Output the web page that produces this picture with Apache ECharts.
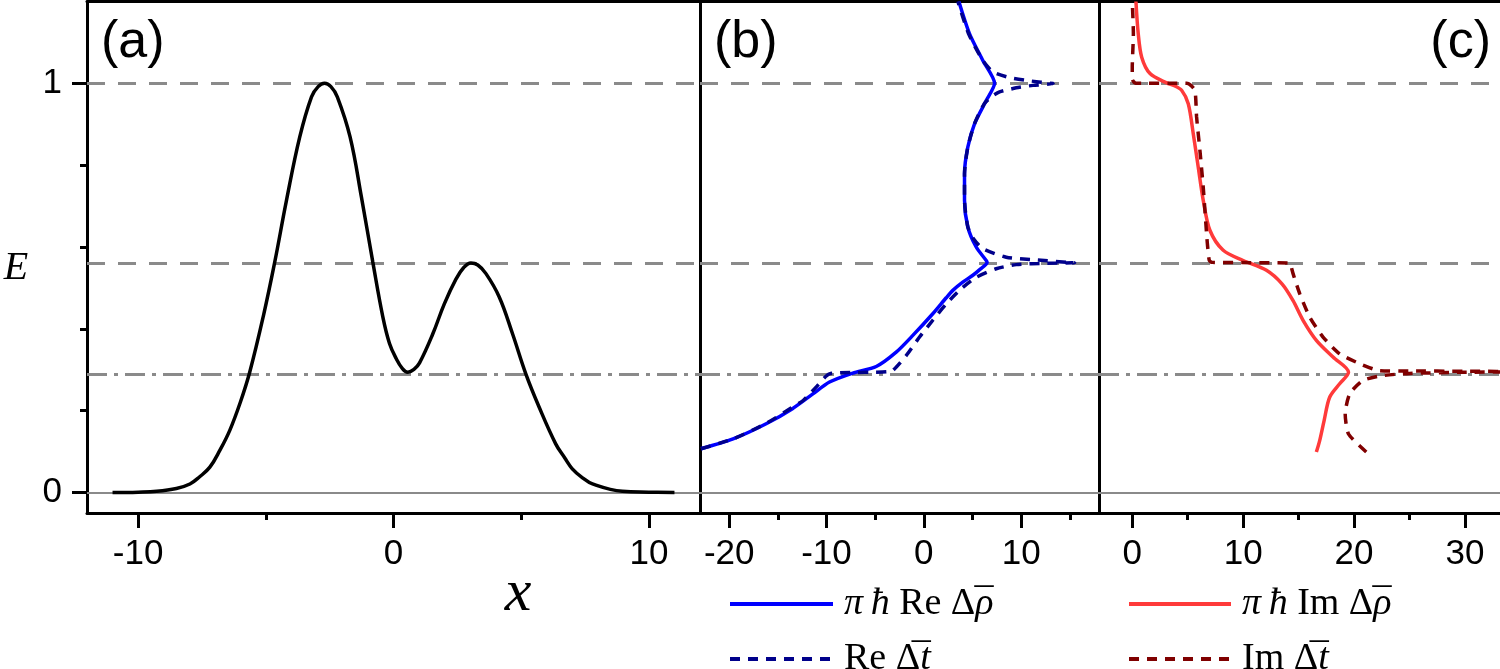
<!DOCTYPE html>
<html>
<head>
<meta charset="utf-8">
<script src="https://cdn.jsdelivr.net/npm/echarts@6/dist/echarts.min.js"></script>
<style>
  html, body { margin: 0; padding: 0; background: #fff; }
  #main { width: 1500px; height: 669px; }
</style>
</head>
<body>
<div id="main"></div>
<script>
// panel (a): potential V(x)
const potX = [-11.0, -10.0, -9.27, -8.5, -7.97, -7.6, -7.19, -6.8, -6.41, -6.0, -5.63, -5.1, -4.65, -4.19, -3.67, -3.21,
  -2.95, -2.7, -2.45, -2.2, -1.7, -1.25, -0.81, -0.42, -0.16, 0.1, 0.35, 0.56, 0.8, 1.02, 1.54, 1.99, 2.45, 2.75, 3.03,
  3.3, 3.62, 4.14, 4.66, 5.18, 5.7, 6.35, 6.7, 7.0, 7.4, 7.79, 8.96, 10.0, 11.0];
const potV = [0.0, 0.001, 0.003, 0.01, 0.021, 0.038, 0.062, 0.103, 0.152, 0.22, 0.294, 0.43, 0.563, 0.714, 0.869, 0.967,
  0.992, 1.0, 0.992, 0.967, 0.869, 0.72, 0.563, 0.43, 0.365, 0.328, 0.303, 0.294, 0.301, 0.317, 0.388, 0.461, 0.522, 0.55, 0.561,
  0.556, 0.535, 0.478, 0.388, 0.29, 0.209, 0.119, 0.085, 0.058, 0.036, 0.021, 0.003, 0.001, 0.0];

// panel (b): real parts, x value vs energy
const reRhoX = [-22.9, -19.6, -16.2, -13.5, -11.4, -9.69, -7.3, -4.89, -2.84, -1.13, 0.92, 2.3, 2.98, 4.0, 5.04, 5.8, 6.5,
  6.41, 5.38, 4.52, 4.18, 4.18, 4.52, 5.21, 6.41, 7.27, 6.06, 4.7, 3.6];
const reRhoE = [0.107, 0.131, 0.168, 0.205, 0.241, 0.27, 0.292, 0.308, 0.343, 0.384, 0.437, 0.476, 0.494, 0.514, 0.531, 0.546, 0.562,
  0.567, 0.6, 0.649, 0.714, 0.779, 0.844, 0.901, 0.958, 1.0, 1.056, 1.121, 1.2];

const reTX = [-22.9, -19.6, -16.2, -13.6, -12.4, -11.1, -9.7, -7.0, -5.1, -3.8, -3.2, -1.8, -0.44, 0.92, 2.3, 3.84, 5.38,
  7.44, 9.5, 12.6, 15.5, 15.5, 11.2, 8.47, 6.06, 5.1, 4.52, 4.18, 4.18, 4.52, 5.21, 6.2, 6.93, 7.78, 9.5, 11.2, 13.3,
  13.3, 10.9, 8.8, 7.09, 6.06, 4.6, 3.5];
const reTE = [0.107, 0.131, 0.169, 0.207, 0.225, 0.257, 0.29, 0.2935, 0.294, 0.295, 0.298, 0.335, 0.38, 0.421, 0.461, 0.498, 0.526,
  0.547, 0.557, 0.5605, 0.5615, 0.5625, 0.569, 0.575, 0.596, 0.62, 0.649, 0.714, 0.779, 0.844, 0.901, 0.95, 0.967, 0.979, 0.989, 0.995, 0.9995,
  1.0005, 1.006, 1.014, 1.028, 1.056, 1.121, 1.2];

// panel (c): imaginary parts
const imRhoX = [16.6, 16.9, 17.3, 17.8, 18.7, 19.5, 18.1, 16.6, 15.4, 14.5, 13.5, 12.1, 10.0, 8.2, 7.0, 6.4, 5.95, 5.5,
  5.05, 4.45, 3.8, 3.1, 1.6, 0.85, 0.54, 0.33];
const imRhoE = [0.099, 0.127, 0.176, 0.233, 0.266, 0.294, 0.331, 0.372, 0.421, 0.469, 0.51, 0.543, 0.567, 0.592, 0.641, 0.714, 0.795, 0.877,
  0.95, 0.983, 0.994, 1.001, 1.024, 1.064, 1.121, 1.2];

const imTX = [21.1, 19.5, 19.2, 19.6, 20.8, 22.6, 25.0, 30.0, 36.0, 36.0, 30.0, 25.0, 22.3, 20.5, 18.7, 17.2, 16.0, 15.1,
  14.5, 14.3, 14.2, 7.2, 6.95, 6.8, 6.7, 6.4, 6.1, 5.8, 5.65, 5.2, 4.9, 0.3, 0.0, 0.0, 0.1, 0.0];
const imTE = [0.099, 0.143, 0.192, 0.241, 0.274, 0.286, 0.291, 0.294, 0.2955, 0.2958, 0.2965, 0.297, 0.298, 0.315, 0.339, 0.38, 0.429, 0.486,
  0.535, 0.555, 0.561, 0.5625, 0.567, 0.6, 0.633, 0.746, 0.836, 0.918, 0.983, 0.997, 1.0, 1.0005, 1.01, 1.04, 1.121, 1.2];

// reference energies
const dashedLevels = [1.0, 0.562];
const dashDotLevels = [0.294];
const zeroLevel = [0];

// ticks
const ticksA = [-10, 0, 10], minorA = [-5, 5];
const ticksB = [-20, -10, 0, 10], minorB = [-15, -5, 5, 15];
const ticksC = [0, 10, 20, 30], minorC = [5, 15, 25];
const ticksE = [0, 1], minorE = [0.2, 0.4, 0.6, 0.8];

const zip = (a, b) => a.map((v, i) => [v, b[i]]);

const SANS = 'Liberation Sans, Arial, sans-serif';
const SERIF = 'Liberation Serif, Times New Roman, serif';
const gray = '#8a8a8a';

const refLines = {
  silent: true,
  symbol: 'none',
  z: 1,
  label: { show: false },
  data: [
    ...dashedLevels.map(v => ({ yAxis: v, lineStyle: { color: gray, width: 3, type: [18, 13] } })),
    ...dashDotLevels.map(v => ({ yAxis: v, lineStyle: { color: gray, width: 3, type: [20, 7, 4, 7] } })),
    ...zeroLevel.map(v => ({ yAxis: v, lineStyle: { color: gray, width: 2, type: 'solid' } }))
  ]
};

const E_MIN = -0.05, E_MAX = 1.2;
const blk = { color: '#000', width: 3 };

function bottomAxis(grid, min, max, major, minor) {
  return [
    {
      type: 'value', gridIndex: grid, position: 'bottom', min: min, max: max,
      axisLine: { show: true, onZero: false, lineStyle: blk },
      axisTick: { show: true, length: 15, customValues: major, lineStyle: blk },
      axisLabel: { show: true, customValues: major, margin: 24, color: '#000', fontSize: 35, fontFamily: SANS },
      splitLine: { show: false }
    },
    {
      type: 'value', gridIndex: grid, position: 'bottom', min: min, max: max,
      axisLine: { show: false, onZero: false },
      axisTick: { show: true, length: 7, customValues: minor, lineStyle: blk },
      axisLabel: { show: false },
      splitLine: { show: false }
    },
    {
      type: 'value', gridIndex: grid, position: 'top', min: min, max: max,
      axisLine: { show: true, onZero: false, lineStyle: blk },
      axisTick: { show: false }, axisLabel: { show: false }, splitLine: { show: false }
    }
  ];
}

const xAxes = [
  ...bottomAxis(0, -12, 12, ticksA, minorA),
  ...bottomAxis(1, -23, 18, ticksB, minorB),
  ...bottomAxis(2, -3, 33.16, ticksC, minorC)
];

const yAxes = [
  {
    type: 'value', gridIndex: 0, position: 'left', min: E_MIN, max: E_MAX,
    axisLine: { show: true, onZero: false, lineStyle: blk },
    axisTick: { show: true, length: 15, customValues: ticksE, lineStyle: blk },
    axisLabel: { show: true, customValues: ticksE, margin: 25, color: '#000', fontSize: 35, fontFamily: SANS },
    splitLine: { show: false }
  },
  {
    type: 'value', gridIndex: 0, position: 'left', min: E_MIN, max: E_MAX,
    axisLine: { show: false, onZero: false },
    axisTick: { show: true, length: 7, customValues: minorE, lineStyle: blk },
    axisLabel: { show: false }, splitLine: { show: false }
  },
  {
    type: 'value', gridIndex: 1, position: 'left', min: E_MIN, max: E_MAX,
    axisLine: { show: true, onZero: false, lineStyle: blk },
    axisTick: { show: false }, axisLabel: { show: false }, splitLine: { show: false }
  },
  {
    type: 'value', gridIndex: 2, position: 'left', min: E_MIN, max: E_MAX,
    axisLine: { show: true, onZero: false, lineStyle: blk },
    axisTick: { show: false }, axisLabel: { show: false }, splitLine: { show: false }
  }
];

const NAME_RE_RHO = 'πħ Re Δρ̄';
const NAME_RE_T = 'Re Δt̄';
const NAME_IM_RHO = 'πħ Im Δρ̄';
const NAME_IM_T = 'Im Δt̄';

// the bar over rho / t is a zero-width token drawn right-aligned over the previous glyph
const legendFmt = {};
legendFmt[NAME_RE_RHO] = '{m|π\u2009ħ}{r| Re Δ}{m|ρ}{bar|¯}';
legendFmt[NAME_RE_T] = '{r|Re Δ}{m|t}{bar|¯}';
legendFmt[NAME_IM_RHO] = '{m|π\u2009ħ}{r| Im Δ}{m|ρ}{bar|¯}';
legendFmt[NAME_IM_T] = '{r|Im Δ}{m|t}{bar|¯}';

const LH = 28;
const FS = 38;
const legendText = {
  color: '#000',
  padding: [0, 0, 0, 6],
  lineHeight: LH,
  rich: {
    m: { fontFamily: SERIF, fontStyle: 'italic', fontSize: FS, color: '#000', lineHeight: LH },
    r: { fontFamily: SERIF, fontSize: FS, color: '#000', lineHeight: LH },
    bar: { fontFamily: SERIF, fontSize: FS, color: '#000', lineHeight: LH, width: 0.01, align: 'right' }
  }
};

// one legend per entry so the rows never wrap
function legendRow(name, left, top, width) {
  return {
    data: [name], orient: 'horizontal', left: left, top: top, padding: 0,
    itemWidth: width, itemHeight: 20, selectedMode: false,
    itemStyle: { color: 'rgba(0,0,0,0)', borderWidth: 0, opacity: 0 },
    lineStyle: { width: 4 },
    formatter: n => legendFmt[n], textStyle: legendText
  };
}

const chart = echarts.init(document.getElementById('main'), null, { renderer: 'canvas' });

chart.setOption({
  animation: false,
  backgroundColor: '#fff',
  grid: [
    { left: 87, top: 1.5, width: 613, height: 511.5 },
    { left: 700, top: 1.5, width: 399, height: 511.5 },
    { left: 1099, top: 1.5, width: 401, height: 511.5 }
  ],
  xAxis: xAxes,
  yAxis: yAxes,
  legend: [
    legendRow(NAME_RE_RHO, 728, 585, 103),
    legendRow(NAME_RE_T, 728, 640, 103),
    legendRow(NAME_IM_RHO, 1127, 585, 102),
    legendRow(NAME_IM_T, 1127, 640, 102)
  ],
  graphic: [
    { type: 'text', x: 101, y: 43, style: { text: '(a)', fontSize: 52, fontFamily: SANS, fill: '#000', verticalAlign: 'middle' } },
    { type: 'text', x: 714, y: 43, style: { text: '(b)', fontSize: 52, fontFamily: SANS, fill: '#000', verticalAlign: 'middle' } },
    { type: 'text', x: 1491, y: 43, style: { text: '(c)', fontSize: 52, fontFamily: SANS, fill: '#000', align: 'right', verticalAlign: 'middle' } },
    { type: 'text', x: 16, y: 268, style: { text: 'E', fontSize: 40, fontFamily: SERIF, fontStyle: 'italic', fill: '#000', align: 'center', verticalAlign: 'middle' } },
    { type: 'text', x: 518, y: 594, style: { text: 'x', fontSize: 60, fontFamily: SERIF, fontStyle: 'italic', fill: '#000', align: 'center', verticalAlign: 'middle' } }
  ],
  series: [
    {
      name: 'V', type: 'line', xAxisIndex: 0, yAxisIndex: 0, data: zip(potX, potV),
      symbol: 'none', smooth: 0.4, z: 3,
      lineStyle: { color: '#000', width: 3.5 },
      markLine: refLines
    },
    {
      name: NAME_RE_RHO, type: 'line', xAxisIndex: 3, yAxisIndex: 2, data: zip(reRhoX, reRhoE),
      symbol: 'none', smooth: 0.25, z: 3, color: '#0000ff',
      lineStyle: { color: '#0000ff', width: 3.5 },
      markLine: refLines
    },
    {
      name: NAME_RE_T, type: 'line', xAxisIndex: 3, yAxisIndex: 2, data: zip(reTX, reTE),
      symbol: 'none', smooth: 0.2, z: 4, color: '#00008b',
      lineStyle: { color: '#00008b', width: 3.5, type: [10, 8] }
    },
    {
      name: NAME_IM_RHO, type: 'line', xAxisIndex: 6, yAxisIndex: 3, data: zip(imRhoX, imRhoE),
      symbol: 'none', smooth: 0.3, z: 3, color: '#ff3a3a',
      lineStyle: { color: '#ff3a3a', width: 3.5 },
      markLine: refLines
    },
    {
      name: NAME_IM_T, type: 'line', xAxisIndex: 6, yAxisIndex: 3, data: zip(imTX, imTE),
      symbol: 'none', smooth: 0.2, z: 4, color: '#800000',
      lineStyle: { color: '#800000', width: 3.5, type: [10, 8] }
    }
  ]
});
</script>
</body>
</html>
